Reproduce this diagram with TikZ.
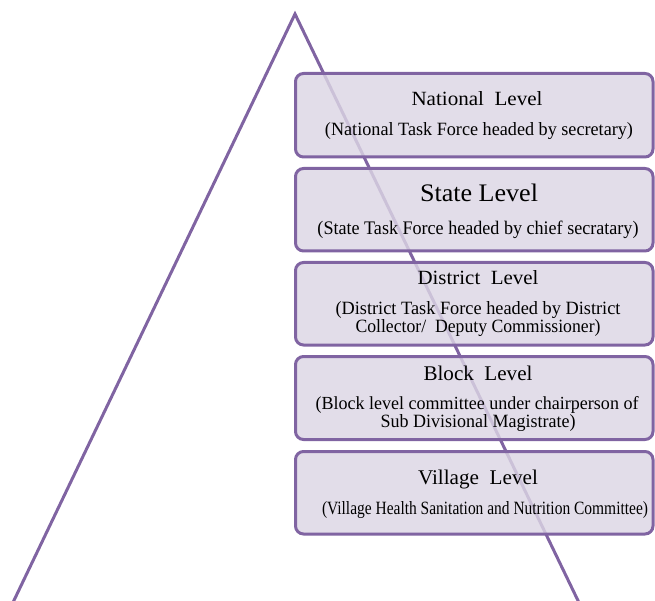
\documentclass[tikz,border=0pt]{standalone}
\usepackage{fontspec}
\setmainfont{Liberation Serif}
\usepackage{graphicx}
\definecolor{tri}{HTML}{8064A2}
\definecolor{boxfill}{HTML}{DCD6E4}
\newcommand{\fitwh}[3]{\resizebox{#1pt}{#2pt}{\fontsize{16}{18}\selectfont #3}}
\begin{document}
\begin{tikzpicture}[x=1pt,y=-1pt,
  levelbox/.style={draw=tri,line width=3pt,fill=boxfill,fill opacity=0.82,draw opacity=1,rounded corners=8pt},
  ttl/.style={anchor=base,inner sep=0pt,text=black},
  sub/.style={anchor=base,inner sep=0pt,text=black}]
\useasboundingbox (0,0) rectangle (655,601);
\begin{scope}
\clip (0,0) rectangle (655,601);
\coordinate (apex) at (295,14);
\coordinate (bl) at (-5,640);
\coordinate (br) at (597,640);
\draw[tri,line width=3pt,line join=miter] (bl) -- (apex) -- (br);
\end{scope}
% boxes
\path[levelbox] (295.5,73.5) rectangle (653,157) node[pos=0.5,draw=none,fill=none] (b1) {};
\path[levelbox] (295.5,168.5) rectangle (653,251) node[pos=0.5,draw=none,fill=none] (b2) {};
\path[levelbox] (295.5,262.5) rectangle (653,345) node[pos=0.5,draw=none,fill=none] (b3) {};
\path[levelbox] (295.5,356.5) rectangle (653,439.5) node[pos=0.5,draw=none,fill=none] (b4) {};
\path[levelbox] (295.5,451.5) rectangle (653,534) node[pos=0.5,draw=none,fill=none] (b5) {};
% texts
\node[ttl] (t1) at (477,106) {\fitwh{131}{14}{National\ \ Level}};
\node[sub] (s1) at (479,136) {\fitwh{308}{13}{(National Task Force headed by secretary)}};
\node[ttl] (t2) at (479,202) {\fitwh{118}{17.5}{State Level}};
\node[sub] (s2) at (478,235) {\fitwh{321}{13.5}{(State Task Force headed by chief secratary)}};
\node[ttl] (t3) at (478,284) {\fitwh{121}{14}{District\ \ Level}};
\node[sub] (s3a) at (478,314) {\fitwh{285}{13}{(District Task Force headed by District}};
\node[sub] (s3b) at (478,332) {\fitwh{245}{13}{Collector/\ \ Deputy Commissioner)}};
\node[ttl] (t4) at (478,380) {\fitwh{109}{14.5}{Block\ \ Level}};
\node[sub] (s4a) at (477,409) {\fitwh{323}{13}{(Block level committee under chairperson of}};
\node[sub] (s4b) at (478,427) {\fitwh{195}{13}{Sub Divisional Magistrate)}};
\node[ttl] (t5) at (478,484) {\fitwh{120}{14.5}{Village\ \ Level}};
\node[sub] (s5) at (485,514) {\fitwh{326}{13}{(Village Health Sanitation and Nutrition Committee)}};
\end{tikzpicture}
\end{document}
